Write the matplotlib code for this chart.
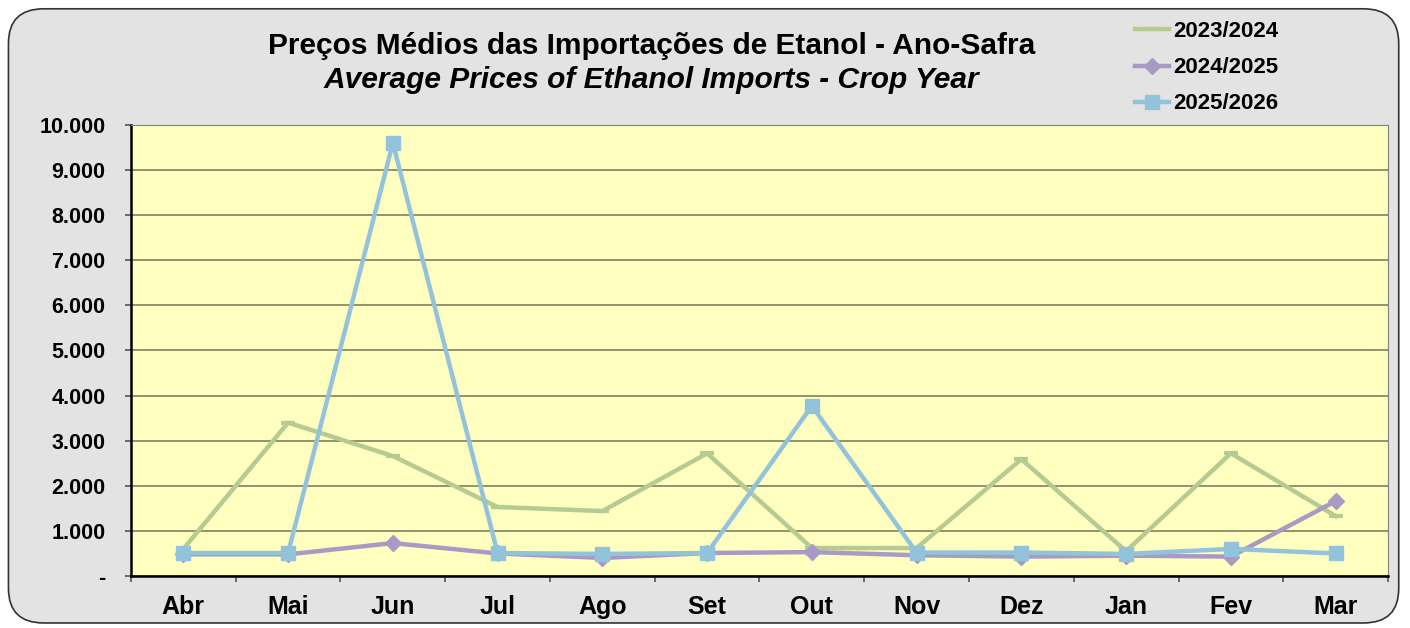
import numpy as np
import matplotlib.pyplot as plt
from matplotlib.patches import FancyBboxPatch
from matplotlib.ticker import FuncFormatter

plt.rcParams['font.family'] = ['Liberation Sans', 'DejaVu Sans']

meses = ['Abr', 'Mai', 'Jun', 'Jul', 'Ago', 'Set', 'Out', 'Nov', 'Dez', 'Jan', 'Fev', 'Mar']
safra_2324 = [600, 3400, 2660, 1530, 1440, 2720, 620, 620, 2590, 550, 2720, 1330]
safra_2425 = [480, 480, 730, 500, 400, 510, 530, 460, 430, 450, 430, 1660]
safra_2526 = [510, 510, 9600, 510, 490, 510, 3770, 520, 520, 490, 600, 500]

fig = plt.figure(figsize=(14.1, 6.28), dpi=100)
fig.patch.set_facecolor('white')
bg = FancyBboxPatch((0.006, 0.008), 0.986, 0.978, boxstyle='round,pad=0,rounding_size=0.025',
                    transform=fig.transFigure, facecolor='#E3E3E3', edgecolor='#333333',
                    linewidth=1.2, mutation_aspect=2.2, zorder=-10)
fig.patches.append(bg)

ax = fig.add_axes([0.0929, 0.0828, 0.8915, 0.7182])
ax.set_facecolor('#FFFFC0')
x = np.arange(len(meses))

ax.plot(x, safra_2324, color='#B5CB92', lw=3.2, marker='_', ms=10, mew=3, label='2023/2024')
ax.plot(x, safra_2425, color='#A99AC4', lw=3.2, marker='D', ms=8, label='2024/2025')
ax.plot(x, safra_2526, color='#93C3DA', lw=3.2, marker='s', ms=10.5, label='2025/2026')

ax.set_xlim(-0.5, 11.5)
ax.set_ylim(0, 10000)
ax.set_yticks(np.arange(0, 10001, 1000))
ax.yaxis.set_major_formatter(FuncFormatter(lambda v, p: '-' if v == 0 else f'{int(v):,}'.replace(',', '.')))
ax.grid(axis='y', color='#7F7F5F', lw=1.2)
ax.set_axisbelow(True)

ax.set_xticks(x)
ax.set_xticklabels(meses)
ax.set_xticks(np.arange(-0.5, 12, 1), minor=True)
ax.tick_params(axis='x', which='major', length=0, pad=14, labelsize=18)
ax.tick_params(axis='x', which='minor', length=4.5, width=1.2, color='#555555', direction='out')
ax.tick_params(axis='y', length=4.5, width=1.2, color='#555555', pad=14, labelsize=15.5)
for lbl in ax.get_xticklabels() + ax.get_yticklabels():
    lbl.set_fontweight('bold')

ax.spines['left'].set_linewidth(1.8)
ax.spines['bottom'].set_linewidth(1.8)
ax.spines['top'].set_color('#808080')
ax.spines['right'].set_color('#808080')

fig.text(0.462, 0.926, 'Preços Médios das Importações de Etanol - Ano-Safra',
         ha='center', va='center', fontsize=21.5, fontweight='bold')
fig.text(0.462, 0.873, 'Average Prices of Ethanol Imports - Crop Year',
         ha='center', va='center', fontsize=21.5, fontweight='bold', style='italic')

leg = fig.legend(loc='upper left', bbox_to_anchor=(0.791, 0.998), frameon=False,
                 prop={'weight': 'bold', 'size': 16}, handlelength=1.5, handletextpad=0.2,
                 labelspacing=0.68)

fig.savefig('out.png', dpi=100, facecolor=fig.get_facecolor())
